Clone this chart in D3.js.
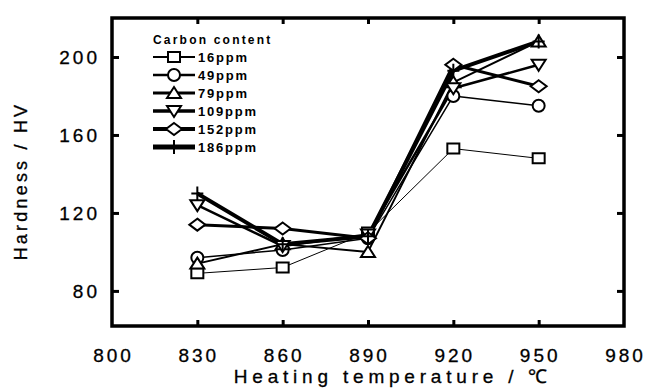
<!DOCTYPE html>
<html><head><meta charset="utf-8">
<script src="https://cdn.jsdelivr.net/npm/d3@7"></script>
<style>
body{margin:0;background:#fff;}
svg{display:block;font-family:"Liberation Sans",Arial,sans-serif;}
</style></head>
<body><svg id="c" width="646" height="388"></svg>
<script>
const temps = [830, 860, 890, 920, 950];
const seriesNames = ["16ppm", "49ppm", "79ppm", "109ppm", "152ppm", "186ppm"];
const c16  = [89, 92, 110, 153, 148];
const c49  = [97, 101, 107, 180, 175];
const c79  = [94, 104, 100, 187, 208];
const c109 = [124, 103, 109, 184, 196];
const c152 = [114, 112, 107, 196, 185];
const c186 = [130, 104, 108, 193, 208];
const xTicks = [800, 830, 860, 890, 920, 950, 980];
const yTicks = [80, 120, 160, 200];

const seriesValues = [c16, c49, c79, c109, c152, c186];
const markers = ["square", "circle", "triangle", "invtriangle", "diamond", "plus"];
const widths = [1, 1.5, 2, 2.5, 3, 4];

const markerPath = {
  square: "M-6,-5H6V5H-6Z",
  circle: "M6,0A6,6 0 1,1 -6,0A6,6 0 1,1 6,0Z",
  triangle: "M0,-6L7,5L-7,5Z",
  invtriangle: "M0,6L7,-5L-7,-5Z",
  diamond: "M0,-6L8,0L0,6L-8,0Z",
  plus: "M-6,0H6M0,-7V7"
};

const svg = d3.select("#c");
const x = d3.scaleLinear().domain([800, 980]).range([112, 624]);
const y = d3.scaleLinear().domain([62, 220]).range([326, 18]);

const line = d3.line().x((d, i) => x(temps[i])).y(d => y(d));
const g = svg.append("g");
seriesValues.forEach((vals, k) => {
  g.append("path").attr("d", line(vals)).attr("fill", "none")
    .attr("stroke", "#000").attr("stroke-width", widths[k]).attr("stroke-linejoin", "round");
});
seriesValues.forEach((vals, k) => {
  g.selectAll(null).data(vals).enter().append("path")
    .attr("d", markerPath[markers[k]])
    .attr("transform", (d, i) => `translate(${x(temps[i])},${y(d)})`)
    .attr("fill", markers[k] === "plus" ? "none" : "#fff")
    .attr("stroke", "#000").attr("stroke-width", 2);
});

svg.append("rect").attr("x", x(800)).attr("y", y(220)).attr("width", x(980) - x(800))
  .attr("height", y(62) - y(220)).attr("fill", "none").attr("stroke", "#000").attr("stroke-width", 3.5);

const inner = xTicks.slice(1, -1);
svg.append("g").attr("transform", `translate(0,${y(62)})`)
  .call(d3.axisTop(x).tickValues(inner).tickSize(6).tickFormat(""))
  .call(s => s.select(".domain").remove()).selectAll("line").attr("stroke-width", 3);
svg.append("g").attr("transform", `translate(0,${y(220)})`)
  .call(d3.axisBottom(x).tickValues(inner).tickSize(6).tickFormat(""))
  .call(s => s.select(".domain").remove()).selectAll("line").attr("stroke-width", 3);
svg.append("g").attr("transform", `translate(${x(800)},0)`)
  .call(d3.axisRight(y).tickValues(yTicks).tickSize(7).tickFormat(""))
  .call(s => s.select(".domain").remove()).selectAll("line").attr("stroke-width", 3);
svg.append("g").attr("transform", `translate(${x(980)},0)`)
  .call(d3.axisLeft(y).tickValues(yTicks).tickSize(7).tickFormat(""))
  .call(s => s.select(".domain").remove()).selectAll("line").attr("stroke-width", 3);

svg.append("g").selectAll("text").data(xTicks).enter().append("text")
  .attr("x", d => x(d) + 1.5).attr("y", 362).attr("text-anchor", "middle")
  .attr("font-size", 19).attr("letter-spacing", 3)
  .attr("stroke", "#000").attr("stroke-width", 0.3).text(d => d);
svg.append("g").selectAll("text").data(yTicks).enter().append("text")
  .attr("x", 100).attr("y", d => y(d) + 7).attr("text-anchor", "end")
  .attr("font-size", 19).attr("letter-spacing", 3)
  .attr("stroke", "#000").attr("stroke-width", 0.3).text(d => d);

svg.append("text").attr("x", 393).attr("y", 383).attr("text-anchor", "middle")
  .attr("font-size", 19).attr("letter-spacing", 4.8)
  .attr("stroke", "#000").attr("stroke-width", 0.3).text("Heating temperature / ℃");
svg.append("text").attr("transform", "translate(27,181) rotate(-90)").attr("text-anchor", "middle")
  .attr("font-size", 18).attr("letter-spacing", 3.2)
  .attr("stroke", "#000").attr("stroke-width", 0.3).text("Hardness / HV");

const lg = svg.append("g");
lg.append("text").attr("x", 153).attr("y", 44).attr("font-size", 12).attr("font-weight", "bold")
  .attr("letter-spacing", 2.2).text("Carbon content");
seriesNames.forEach((nm, k) => {
  const ly = 57 + k * 18;
  lg.append("line").attr("x1", 153).attr("x2", 195).attr("y1", ly).attr("y2", ly)
    .attr("stroke", "#000").attr("stroke-width", widths[k] + 1);
  lg.append("path").attr("d", markerPath[markers[k]]).attr("transform", `translate(174,${ly})`)
    .attr("fill", markers[k] === "plus" ? "none" : "#fff").attr("stroke", "#000").attr("stroke-width", 2);
  lg.append("text").attr("x", 198).attr("y", ly + 5).attr("font-size", 13).attr("font-weight", "bold")
    .attr("letter-spacing", 1.8).text(nm);
});
</script></body></html>
